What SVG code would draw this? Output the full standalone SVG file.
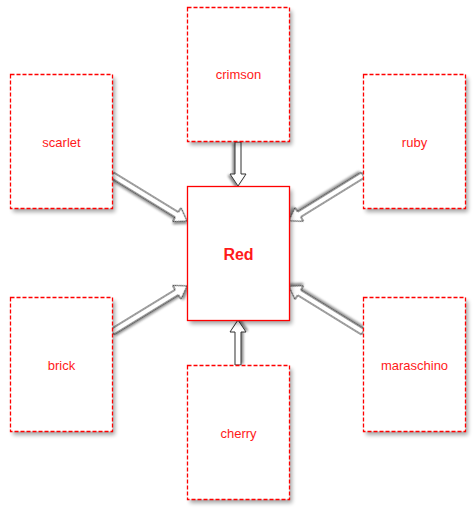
<svg xmlns="http://www.w3.org/2000/svg" width="475" height="514" viewBox="0 0 475 514">
<defs>
<filter id="blur" x="-20%" y="-20%" width="140%" height="140%">
<feGaussianBlur stdDeviation="2"/>
</filter>
<filter id="ash" x="-20%" y="-50%" width="150%" height="200%">
<feDropShadow dx="1.5" dy="2" stdDeviation="1.2" flood-color="#000" flood-opacity="0.45"/>
</filter>
</defs>
<style>
.shd{fill:#000;opacity:0.35;filter:url(#blur)}
.box{fill:#fff;stroke:#ff0000;stroke-width:1.3;stroke-dasharray:4,2}
.main{fill:#fff;stroke:#ff0000;stroke-width:1.3}
.lbl{font-family:"Liberation Sans",Arial,sans-serif;font-size:13px;fill:#ff1a1a;text-anchor:middle}
.big{font-family:"Liberation Sans",Arial,sans-serif;font-size:16px;font-weight:bold;fill:#ff1a1a;text-anchor:middle}
.arr{fill:#fff;stroke:#333;stroke-width:1;stroke-linejoin:miter;filter:url(#ash)}
</style>
<g id="connectors">
<polygon class="arr" transform="translate(238,142) rotate(90)" points="0,-3 32,-3 32,-8 44,0 32,8 32,3 0,3"/>
<polygon class="arr" transform="translate(238,365) rotate(-90)" points="0,-3 33,-3 33,-8 45,0 33,8 33,3 0,3"/>
<polygon class="arr" transform="translate(112,175) rotate(31.5)" points="0,-3 76,-3 76,-8 88,0 76,8 76,3 0,3"/>
<polygon class="arr" transform="translate(112,332) rotate(-31.5)" points="0,-3 76,-3 76,-8 88,0 76,8 76,3 0,3"/>
<polygon class="arr" transform="translate(363,175) rotate(148.3)" points="0,-3 75,-3 75,-8 87,0 75,8 75,3 0,3"/>
<polygon class="arr" transform="translate(363,332) rotate(-148.3)" points="0,-3 75,-3 75,-8 87,0 75,8 75,3 0,3"/>
</g>
<g id="crimson"><rect class="shd" x="190" y="11" width="102" height="134"/><rect class="box" x="187.5" y="7.5" width="102" height="134"/><text class="lbl" x="238.5" y="79">crimson</text></g>
<g id="scarlet"><rect class="shd" x="13" y="78" width="102" height="134"/><rect class="box" x="10.5" y="74.5" width="102" height="134"/><text class="lbl" x="61.5" y="147">scarlet</text></g>
<g id="ruby"><rect class="shd" x="366" y="78" width="102" height="134"/><rect class="box" x="363.5" y="74.5" width="102" height="134"/><text class="lbl" x="414.5" y="147">ruby</text></g>
<g id="red"><rect class="shd" x="190" y="190" width="102" height="134"/><rect class="main" x="187.5" y="186.5" width="102" height="134"/><text class="big" x="238.5" y="260">Red</text></g>
<g id="brick"><rect class="shd" x="13" y="301" width="102" height="134"/><rect class="box" x="10.5" y="297.5" width="102" height="134"/><text class="lbl" x="61.5" y="370">brick</text></g>
<g id="maraschino"><rect class="shd" x="366" y="301" width="102" height="134"/><rect class="box" x="363.5" y="297.5" width="102" height="134"/><text class="lbl" x="414.5" y="370">maraschino</text></g>
<g id="cherry"><rect class="shd" x="190" y="369" width="102" height="134"/><rect class="box" x="187.5" y="365.5" width="102" height="134"/><text class="lbl" x="238.5" y="438">cherry</text></g>
</svg>
